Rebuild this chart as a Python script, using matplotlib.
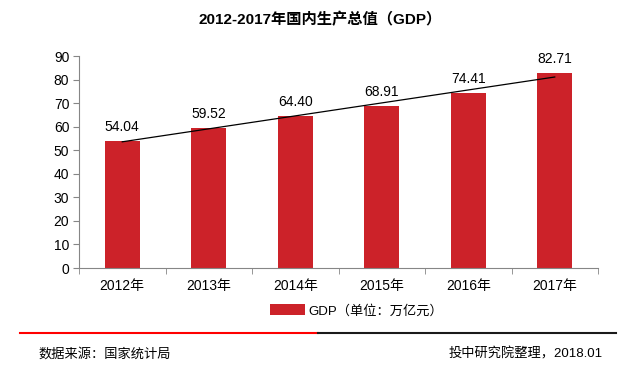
import matplotlib.pyplot as plt
from matplotlib.lines import Line2D
import numpy as np

plt.rcParams['font.family'] = ['Liberation Sans', 'Noto Sans CJK SC', 'DejaVu Sans']

years = ["2012年", "2013年", "2014年", "2015年", "2016年", "2017年"]
gdp = [54.04, 59.52, 64.40, 68.91, 74.41, 82.71]
yticks = [0, 10, 20, 30, 40, 50, 60, 70, 80, 90]

BAR_COLOR = "#CC2229"
AXIS_COLOR = "#868686"

fig = plt.figure(figsize=(6.4, 3.68), dpi=100)
ax = fig.add_axes([79 / 640, 1 - 268 / 368, (598 - 79) / 640, (268 - 56) / 368])

x = np.arange(len(years))
ax.bar(x, gdp, width=0.4, color=BAR_COLOR, label="GDP（单位：万亿元）", zorder=2)
for xi, v in zip(x, gdp):
    ax.annotate(f"{v:.2f}", (xi, v), xytext=(0, 5), textcoords="offset points",
                ha="center", va="bottom", fontsize=10)

# linear trendline
k, b = np.polyfit(x, gdp, 1)
ax.plot(x, k * x + b, color="black", linewidth=0.9, zorder=3)

ax.set_xlim(-0.5, len(years) - 0.5)
ax.set_ylim(0, 90)
ax.set_yticks(yticks)
ax.set_xticks(x)
ax.set_xticklabels(years, fontsize=10)
ax.set_xticks(np.arange(-0.5, len(years)), minor=True)
ax.tick_params(axis="x", which="major", length=0, pad=8)
ax.tick_params(axis="x", which="minor", length=4, color=AXIS_COLOR)
ax.tick_params(axis="y", length=4, color=AXIS_COLOR, labelsize=10, pad=3)
for s in ["top", "right"]:
    ax.spines[s].set_visible(False)
for s in ["left", "bottom"]:
    ax.spines[s].set_color(AXIS_COLOR)
    ax.spines[s].set_linewidth(0.8)

fig.text(0.5, 1 - 20 / 368, "2012-2017年国内生产总值（GDP）", ha="center", va="center",
         fontsize=11, fontweight="bold")

leg = fig.legend(loc="center", bbox_to_anchor=(357 / 640, 1 - 311 / 368), frameon=False,
                 fontsize=9.5, handlelength=2.6, handleheight=0.9, handletextpad=0.3)

fig.add_artist(Line2D([20 / 640, 318 / 640], [1 - 333 / 368] * 2, color="#FF0000", linewidth=1.5))
fig.add_artist(Line2D([318 / 640, 616 / 640], [1 - 333 / 368] * 2, color="#1A1A1A", linewidth=1.5))

fig.text(38 / 640, 1 - 354 / 368, "数据来源：国家统计局", ha="left", va="center", fontsize=9.5)
fig.text(603 / 640, 1 - 354 / 368, "投中研究院整理，2018.01", ha="right", va="center", fontsize=9.5)

fig.savefig("out.png", dpi=100)
